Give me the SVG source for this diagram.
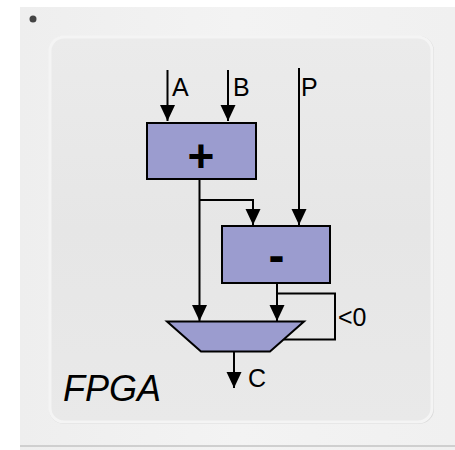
<svg xmlns="http://www.w3.org/2000/svg" width="455" height="450" viewBox="0 0 455 450">
  <style>
    .lbl { font-family: "Liberation Sans", Arial, sans-serif; font-size: 25px; fill: #000; }
    .op { font-family: "Liberation Sans", Arial, sans-serif; font-weight: bold; fill: #000; text-anchor: middle; }
    .blk { fill: #9b9ccf; stroke: #000; stroke-width: 2; }
    .wire { fill: none; stroke: #000; stroke-width: 2; }
  </style>
  <defs>
    <marker id="ah" markerUnits="userSpaceOnUse" markerWidth="17" markerHeight="16" refX="16" refY="7.5" orient="auto">
      <path d="M0,0 L16,7.5 L0,15 z" fill="#000"/>
    </marker>
    <linearGradient id="inner" x1="0" y1="0" x2="0" y2="1">
      <stop offset="0" stop-color="#ebebeb"/>
      <stop offset="0.5" stop-color="#e6e6e6"/>
      <stop offset="1" stop-color="#e9e9e9"/>
    </linearGradient>
    <linearGradient id="outer" x1="0" y1="0" x2="1" y2="0">
      <stop offset="0" stop-color="#eeeeee"/>
      <stop offset="0.5" stop-color="#f3f3f3"/>
      <stop offset="1" stop-color="#f0f0f0"/>
    </linearGradient>
  </defs>

  <rect width="455" height="450" fill="#ffffff"/>
  <g id="chip">
    <rect x="20" y="7" width="435" height="443" fill="url(#outer)"/>
    <line x1="20" y1="446" x2="455" y2="446" stroke="#cfcfcf" stroke-width="2"/>
    <circle cx="33" cy="19" r="3.5" fill="#444"/>
    <rect x="49" y="36" width="385" height="388" rx="15" fill="#dadada"/>
    <rect x="50" y="37" width="382" height="385" rx="14" fill="url(#inner)" stroke="#f4f4f4" stroke-width="3"/>
  </g>

  <g id="connectors">
    <line class="wire" x1="167.5" y1="70" x2="167.5" y2="121" marker-end="url(#ah)"/>
    <line class="wire" x1="228" y1="70" x2="228" y2="121" marker-end="url(#ah)"/>
    <line class="wire" x1="299" y1="68" x2="299" y2="225" marker-end="url(#ah)"/>
    <line class="wire" x1="199.5" y1="179" x2="199.5" y2="321" marker-end="url(#ah)"/>
    <polyline class="wire" points="199.5,200 253,200 253,225" marker-end="url(#ah)"/>
    <line class="wire" x1="277" y1="283" x2="277" y2="321" marker-end="url(#ah)"/>
    <polyline class="wire" points="277,293.5 335,293.5 335,339.5 284,339.5"/>
    <line class="wire" x1="234" y1="352" x2="234" y2="388" marker-end="url(#ah)"/>
  </g>

  <g id="adder">
    <rect class="blk" x="147" y="123" width="109" height="56"/>
    <text class="op" x="201" y="172" font-size="46">+</text>
  </g>
  <g id="subtractor">
    <rect class="blk" x="222" y="226" width="108" height="57"/>
    <text class="op" x="276.5" y="272" font-size="48">-</text>
  </g>
  <g id="mux">
    <polygon class="blk" points="167,321.5 304,321.5 270,351.5 201,351.5"/>
  </g>

  <g id="labels">
    <text class="lbl" x="172" y="96">A</text>
    <text class="lbl" x="233" y="96">B</text>
    <text class="lbl" x="301" y="96">P</text>
    <text class="lbl" x="338" y="326">&lt;0</text>
    <text class="lbl" x="248" y="387">C</text>
    <text x="63" y="401" font-family="Liberation Sans, Arial, sans-serif" font-style="italic" font-size="36" fill="#000">FPGA</text>
  </g>
</svg>
